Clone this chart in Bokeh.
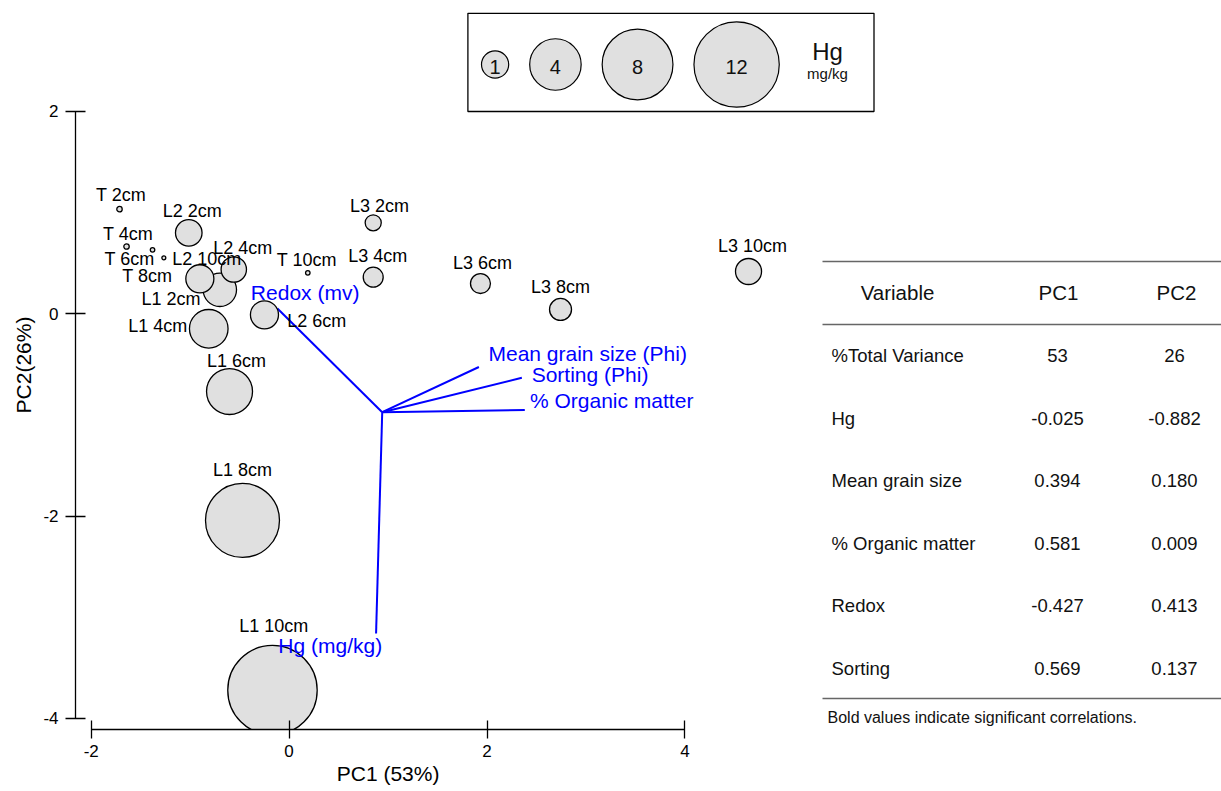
from bokeh.plotting import figure
from bokeh.models import ColumnDataSource, Range1d, FixedTicker, CustomJSTickFormatter, Title
from bokeh.core.properties import value
from bokeh.embed import file_html
from bokeh.resources import INLINE

# ---------------- data ----------------
samples = ["T 2cm", "T 4cm", "T 6cm", "T 8cm", "T 10cm",
           "L2 2cm", "L2 4cm", "L2 6cm", "L2 10cm",
           "L1 2cm", "L1 4cm", "L1 6cm", "L1 8cm", "L1 10cm",
           "L3 2cm", "L3 4cm", "L3 6cm", "L3 8cm", "L3 10cm"]
pc1 = [-1.714, -1.643, -1.380, -1.266, 0.189,
       -1.014, -0.559, -0.249, -0.902,
       -0.700, -0.812, -0.602, -0.471, -0.168,
       0.850, 0.850, 1.934, 2.743, 4.643]
pc2 = [1.032, 0.663, 0.630, 0.551, 0.403,
       0.798, 0.436, -0.012, 0.344,
       0.235, -0.150, -0.770, -2.044, -3.721,
       0.897, 0.360, 0.297, 0.041, 0.416]
hg = [0.03, 0.03, 0.02, 0.015, 0.02,
      0.95, 0.86, 1.07, 1.07,
      1.56, 2.14, 3.13, 8.8, 13.3,
      0.32, 0.51, 0.51, 0.63, 0.91]

# label placement (screen px, label centre relative to the point)
label_dx = [1.5, 1.5, -23, -16.6, -1, 3.4, 8.9, 52.3, 7, -48.8, -51, 7, 0, 1.3, 6.3, 4.6, 2, 0, 4]
label_dy = [-13.7, -12.7, 9, 17.7, -13, -21.6, -21.7, 5.7, -20, 9, -3, -31, -50, -63.7, -17.3, -20.7, -21, -22, -26]

# loadings (table and biplot vectors)
table_vars = ["Hg", "Mean grain size", "% Organic matter", "Redox", "Sorting"]
vector_names = ["Hg (mg/kg)", "Mean grain size (Phi)", "% Organic matter", "Redox (mv)", "Sorting (Phi)"]
load_pc1 = [-0.025, 0.394, 0.581, -0.427, 0.569]
load_pc2 = [-0.882, 0.180, 0.009, 0.413, 0.137]
variance = [53, 26]
vec_dx = [-45.8, 108.8, 86.9, 27.7, 68.2]
vec_dy = [12, -13.5, -9.4, -16.3, -3.3]
vec_origin = (0.941, -0.974)
vec_scale = 2.48

legend_hg = [1, 4, 8, 12]
x_ticks = [-2, 0, 2, 4]
y_ticks = [-4, -2, 0, 2]
x_title = "PC1 (53%)"
y_title = "PC2(26%)"

FONT = "Liberation Sans"


def diam(v):
    return 2 * 13.6 * v ** 0.46


# ---------------- figure geometry ----------------
W, H = 1221, 791
fl, fr, ft, fb = 75, 1221, 0, 729        # frame edges in page px
x0_pg, xs = 288.6, 98.95
y0_pg, ys = 313.1, 101.2

p = figure(width=W, height=H,
           x_range=Range1d((fl - x0_pg) / xs, (fr - x0_pg) / xs),
           y_range=Range1d((y0_pg - fb) / ys, (y0_pg - ft) / ys),
           output_backend="svg", toolbar_location=None,
           min_border_left=fl, min_border_right=W - fr,
           min_border_top=ft, min_border_bottom=H - fb)
p.extra_x_ranges = {"page": Range1d(fl, fr)}
p.extra_y_ranges = {"page": Range1d(fb, ft)}
p.grid.visible = False
p.outline_line_color = None
p.background_fill_color = "white"

for ax, ticks, tk, so in ((p.xaxis, x_ticks, 9, 6), (p.yaxis, y_ticks, 10, 7)):
    ax.ticker = FixedTicker(ticks=ticks)
    ax.formatter = CustomJSTickFormatter(code="return String(tick)")
    ax.bounds = (min(ticks), max(ticks))
    ax.axis_line_width = 1.3
    ax.major_tick_line_width = 1.3
    ax.major_tick_in = tk
    ax.major_tick_out = tk
    ax.minor_tick_line_color = None
    ax.major_label_text_font = FONT
    ax.major_label_text_font_size = "17px"
    ax.major_label_text_color = "black"
    ax.major_label_standoff = so
    ax.axis_label_text_font = FONT
    ax.axis_label_text_font_size = "21px"
    ax.axis_label_text_font_style = "normal"
    ax.axis_label_text_color = "black"
p.yaxis.axis_label = y_title
p.yaxis.axis_label_standoff = 5

# x-axis title centred under the axis bounds (not the whole frame)
title_w = 4.89 * 21
axis_mid_px = x0_pg + xs * (min(x_ticks) + max(x_ticks)) / 2
p.add_layout(Title(text=x_title, align="left", offset=axis_mid_px - title_w / 2 - fl,
                   standoff=0, text_font=FONT, text_font_size="21px",
                   text_font_style="normal", text_color="black"), "below")

# ---------------- biplot vectors ----------------
ox, oy = vec_origin
vsrc = ColumnDataSource(dict(
    x0=[ox] * len(load_pc1), y0=[oy] * len(load_pc1),
    x1=[ox + a * vec_scale for a in load_pc1],
    y1=[oy + b * vec_scale for b in load_pc2],
    name=vector_names, dx=vec_dx, dy=vec_dy))
p.segment(x0="x0", y0="y0", x1="x1", y1="y1", source=vsrc,
          line_color="#0000ff", line_width=2)

# ---------------- samples ----------------
order = sorted(range(len(samples)), key=lambda i: -hg[i])
ssrc = ColumnDataSource(dict(
    x=[pc1[i] for i in order], y=[pc2[i] for i in order],
    size=[diam(hg[i]) for i in order],
    name=[samples[i] for i in order],
    dx=[label_dx[i] for i in order], dy=[label_dy[i] for i in order]))
p.scatter(x="x", y="y", size="size", source=ssrc, fill_color="#e0e0e0",
          line_color="black", line_width=1.3)
p.text(x="x", y="y", text="name", x_offset="dx", y_offset="dy", source=ssrc,
       text_font=value(FONT), text_font_size=value("18px"), text_color="black",
       text_align="center", text_baseline="middle")

p.text(x="x1", y="y1", text="name", x_offset="dx", y_offset="dy", source=vsrc,
       text_font=value(FONT), text_font_size=value("21px"), text_color="#0000ff",
       text_align="center", text_baseline="middle")

# ---------------- table ----------------
tbl_left, tbl_label_x, col1_x, col2_x = 822, 831, 1057, 1174
head_y, row0_y, row_h = 292, 355, 62.6
rule_y = [261, 324, 698]
PG = dict(x_range_name="page", y_range_name="page")

p.segment(x0=[tbl_left] * 3, x1=[fr] * 3, y0=rule_y, y1=rule_y,
          line_color="#666666", line_width=1.6, **PG)
p.text(x=[897, 1058, 1176], y=[head_y] * 3, text=["Variable", "PC1", "PC2"],
       text_font=value(FONT), text_font_size=value("20.5px"), text_color="#111111",
       text_align="center", text_baseline="middle", **PG)

row_names = ["%Total Variance"] + table_vars
row_pc1 = [str(variance[0])] + [f"{v:.3f}" for v in load_pc1]
row_pc2 = [str(variance[1])] + [f"{v:.3f}" for v in load_pc2]
row_y = [row0_y + i * row_h for i in range(len(row_names))]
p.text(x=[tbl_label_x] * len(row_names), y=row_y, text=row_names,
       text_font=value(FONT), text_font_size=value("18.5px"), text_color="#111111",
       text_align="left", text_baseline="middle", **PG)
p.text(x=[col1_x] * len(row_names), y=row_y, text=row_pc1,
       text_font=value(FONT), text_font_size=value("18.5px"), text_color="#111111",
       text_align="center", text_baseline="middle", **PG)
p.text(x=[col2_x] * len(row_names), y=row_y, text=row_pc2,
       text_font=value(FONT), text_font_size=value("18.5px"), text_color="#111111",
       text_align="center", text_baseline="middle", **PG)
p.text(x=[827], y=[717], text=["Bold values indicate significant correlations."],
       text_font=value(FONT), text_font_size=value("16px"), text_color="#111111",
       text_align="left", text_baseline="middle", **PG)

# ---------------- size legend ----------------
box_l, box_r, box_t, box_b = 467.4, 873.5, 12.8, 111
leg_y, leg_start, leg_gap = 64, 481, 21
p.quad(left=[box_l], right=[box_r], top=[box_t], bottom=[box_b],
       fill_color="white", line_color="black", line_width=1.3, **PG)
leg_d = [diam(v) for v in legend_hg]
leg_x = []
cur = leg_start
for d in leg_d:
    leg_x.append(cur + d / 2)
    cur += d + leg_gap
p.scatter(x=leg_x, y=[leg_y] * len(leg_x), size=leg_d, fill_color="#e0e0e0",
          line_color="black", line_width=1.2, **PG)
p.text(x=leg_x, y=[leg_y + 2] * len(leg_x), text=[str(v) for v in legend_hg],
       text_font=value(FONT), text_font_size=value("20px"), text_color="#111111",
       text_align="center", text_baseline="middle", **PG)
p.text(x=[827], y=[51], text=["Hg"], text_font=value(FONT),
       text_font_size=value("24px"), text_color="#111111",
       text_align="center", text_baseline="middle", **PG)
p.text(x=[827], y=[73], text=["mg/kg"], text_font=value(FONT),
       text_font_size=value("15px"), text_color="#111111",
       text_align="center", text_baseline="middle", **PG)

open("out.html", "w").write(file_html(p, INLINE))
